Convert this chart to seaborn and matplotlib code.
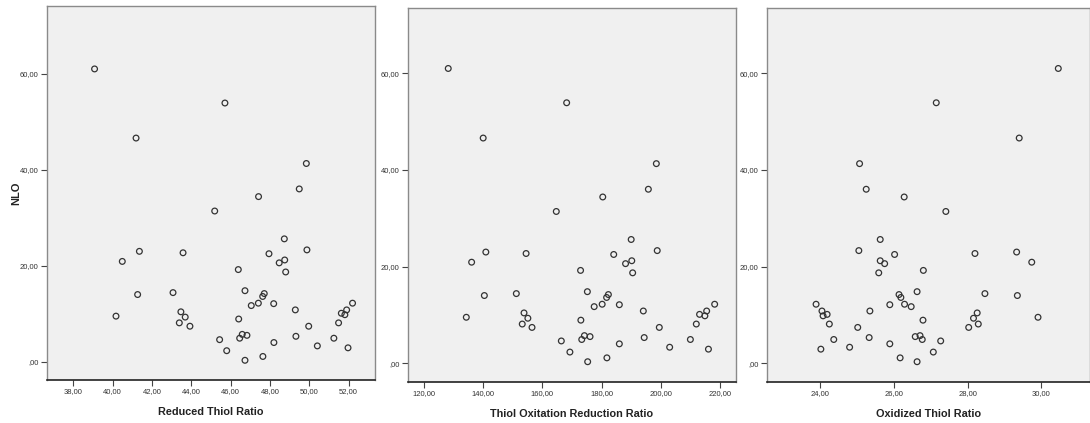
import matplotlib
matplotlib.use("Agg")
import matplotlib.pyplot as plt
import seaborn as sns
import pandas as pd
from matplotlib.ticker import FuncFormatter, FixedLocator

nlo = [61.0, 53.9, 46.6, 41.3, 36.0, 34.4, 31.4, 25.6, 23.0, 22.7, 23.3, 22.5,
       20.9, 21.2, 20.6, 18.7, 19.2, 14.0, 14.4, 14.8, 14.2, 13.6, 11.7, 12.2,
       12.1, 12.2, 10.8, 10.4, 10.8, 10.1, 9.8, 9.5, 9.3, 8.9, 8.1, 8.1, 7.4,
       7.4, 5.7, 5.5, 4.9, 5.3, 4.6, 4.9, 4.0, 3.3, 2.9, 2.3, 1.1, 0.3]

reduced = [39.08, 45.71, 41.19, 49.85, 49.49, 47.42, 45.19, 48.73, 41.36, 43.58,
           49.88, 47.95, 40.49, 48.75, 48.47, 48.80, 46.39, 41.27, 43.07, 46.73,
           47.71, 47.63, 47.05, 47.41, 48.19, 52.20, 49.29, 43.47, 51.90, 51.63,
           51.81, 40.17, 43.69, 46.41, 43.39, 51.49, 43.93, 49.97, 46.59, 46.83,
           46.46, 49.32, 45.44, 51.25, 48.20, 50.41, 51.97, 45.80, 47.64, 46.73]

torr = [128.2, 168.2, 140.0, 198.5, 195.8, 180.4, 164.7, 190.0, 140.9, 154.5,
        198.8, 184.1, 136.1, 190.2, 188.1, 190.5, 172.9, 140.4, 151.2, 175.2,
        182.3, 181.7, 177.5, 180.2, 186.0, 218.2, 194.1, 153.8, 215.5, 213.1,
        214.9, 134.3, 155.1, 173.0, 153.2, 212.0, 156.5, 199.5, 174.2, 176.1,
        173.3, 194.4, 166.4, 210.0, 186.0, 203.0, 216.1, 169.3, 181.8, 175.3]

oxidized = [30.46, 27.15, 29.40, 25.07, 25.25, 26.28, 27.41, 25.63, 29.33, 28.20,
            25.05, 26.02, 29.74, 25.63, 25.75, 25.59, 26.80, 29.35, 28.47, 26.63,
            26.14, 26.19, 26.47, 26.29, 25.89, 23.89, 25.35, 28.26, 24.05, 24.19,
            24.08, 29.91, 28.16, 26.79, 28.29, 24.25, 28.03, 25.02, 26.71, 26.58,
            26.77, 25.33, 27.27, 24.37, 25.89, 24.80, 24.02, 27.07, 26.17, 26.63]

x_labels = ["Reduced Thiol Ratio", "Thiol Oxitation Reduction Ratio", "Oxidized Thiol Ratio"]
y_label = "NLO"
y_ticks = [0, 20, 40, 60]
x_ticks = [[38, 40, 42, 44, 46, 48, 50, 52],
           [120, 140, 160, 180, 200, 220],
           [24, 26, 28, 30]]

df = pd.DataFrame({"NLO": nlo, x_labels[0]: reduced, x_labels[1]: torr, x_labels[2]: oxidized})

sns.set_theme(style="white")
plt.rcParams['font.family'] = ['Liberation Sans', 'DejaVu Sans']

fig = plt.figure(figsize=(10.9, 4.23), dpi=100)
rects = [[0.0431, 0.1017, 0.3009, 0.884],
         [0.3743, 0.0969, 0.3009, 0.884],
         [0.7037, 0.0969, 0.2963, 0.884]]
xlims = [(36.66, 53.34), (114.6, 225.4), (22.56, 31.32)]
ylims = [(-3.8, 74.1), (-3.9, 73.5), (-3.9, 73.5)]

def fmt(v, pos):
    s = f"{v:.2f}".replace(".", ",")
    if s.startswith("0,"):
        s = s[1:]
    return s

for i, col in enumerate(x_labels):
    ax = fig.add_axes(rects[i])
    ax.set_facecolor("#f0f0f0")
    sns.scatterplot(data=df, x=col, y="NLO", ax=ax, marker="o", s=17,
                    facecolors="none", edgecolor="#333333", linewidth=0.9)
    ax.set_xlim(*xlims[i])
    ax.set_ylim(*ylims[i])
    ax.xaxis.set_major_locator(FixedLocator(x_ticks[i]))
    ax.yaxis.set_major_locator(FixedLocator(y_ticks))
    ax.xaxis.set_major_formatter(FuncFormatter(fmt))
    ax.yaxis.set_major_formatter(FuncFormatter(fmt))
    ax.tick_params(axis="both", which="major", length=4, width=0.8, color="#444444",
                   labelsize=5.5, labelcolor="#333333", pad=2, direction="out")
    ax.tick_params(bottom=True, left=True)
    for side in ["top", "right", "left"]:
        ax.spines[side].set_color("#8a8a8a")
        ax.spines[side].set_linewidth(1.0)
    ax.spines["bottom"].set_color("#222222")
    ax.spines["bottom"].set_linewidth(1.2)
    ax.set_xlabel(col, fontsize=7.8, fontweight="bold", color="#222222")
    ax.xaxis.set_label_coords(0.5, -0.072)
    if i == 0:
        ax.set_ylabel(y_label, fontsize=8, fontweight="bold", color="#222222")
        ax.yaxis.set_label_coords(-0.079, 0.5)
    else:
        ax.set_ylabel("")

fig.savefig("out.png", dpi=100, facecolor="white")
